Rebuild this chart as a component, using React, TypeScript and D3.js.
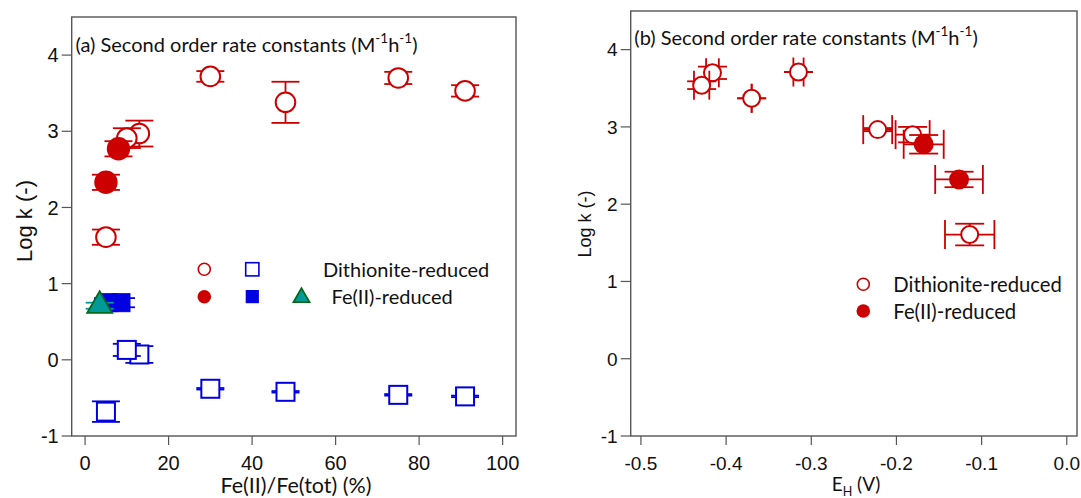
import React from 'react';
import * as d3 from 'd3';

const RED = '#cc0000';
const BLUE = '#0000e0';
const TEAL = '#009a9a';
const GREEN = '#006a1a';
const AXIS = '#555555';
const TICK_FONT = '"Liberation Sans", Arial, sans-serif';
const TEXT_FONT = 'Lato, "Open Sans", sans-serif';

// shared y axis
const logkTicks = [-1, 0, 1, 2, 3, 4];

// ---------- panel (a): log k vs Fe(II)/Fe(tot) ----------
const fracTicks = [0, 20, 40, 60, 80, 100];
// dithionite-reduced, red open circles (draw order matters for overlaps)
const aDithRedX = [13, 10, 30, 48, 75, 91, 5];
const aDithRedY = [2.97, 2.91, 3.72, 3.38, 3.7, 3.53, 1.61];
const aDithRedErr = [0.17, 0.13, 0.07, 0.27, 0.08, 0.075, 0.1];
// Fe(II)-reduced, red filled circles
const aFeRedX = [5, 8];
const aFeRedY = [2.33, 2.77];
const aFeRedErr = [0.1, 0.1];
// dithionite-reduced, blue open squares
const aDithBlueX = [13, 10, 30, 48, 75, 91, 5];
const aDithBlueY = [0.07, 0.13, -0.38, -0.42, -0.46, -0.48, -0.68];
const aDithBlueErr = [0.11, 0.08, 0.01, 0.01, 0.01, 0.01, 0.135];
// Fe(II)-reduced, blue filled squares
const aFeBlueX = [5.5, 8.6];
const aFeBlueY = [0.75, 0.75];
const aFeBlueErr = [0.06, 0.06];
// Fe(II)-reduced, green triangle
const aFeGreenX = [3.5];
const aFeGreenY = [0.71];
const aFeGreenErr = [0.04];

// ---------- panel (b): log k vs E_H ----------
const ehTicks = [-0.5, -0.4, -0.3, -0.2, -0.1, 0.0];
const ehTickLabels = ['-0.5', '-0.4', '-0.3', '-0.2', '-0.1', '0.0'];
const bDithX = [-0.416, -0.4287, -0.37, -0.315, -0.222, -0.181, -0.114];
const bDithY = [3.7, 3.54, 3.37, 3.71, 2.965, 2.9, 1.607];
const bDithXErr = [0.0075, 0.009, 0, 0.006, 0.017, 0.02, 0.029];
const bDithYErr = [0.08, 0.05, 0, 0, 0.02, 0.1, 0.14];
const bFeX = [-0.168, -0.1265];
const bFeY = [2.775, 2.32];
const bFeXErr = [0.0235, 0.028];
const bFeYErr = [0.12, 0.1];

type Scale = d3.ScaleLinear<number, number>;

function errLines(
    x: Scale, y: Scale, cx: number, cy: number,
    dx: number, dy: number, cap: number, color: string, key: string, withX: boolean
) {
    const px = x(cx), py = y(cy);
    const h = cap / 2;
    const out: React.ReactElement[] = [];
    const st = { stroke: color, strokeWidth: 1.8 };
    // y error
    const y0 = y(cy - dy), y1 = y(cy + dy);
    out.push(<line key={key + 'v'} x1={px} x2={px} y1={y0} y2={y1} {...st} />);
    out.push(<line key={key + 'vc0'} x1={px - h} x2={px + h} y1={y0} y2={y0} {...st} />);
    out.push(<line key={key + 'vc1'} x1={px - h} x2={px + h} y1={y1} y2={y1} {...st} />);
    if (withX) {
        const x0 = x(cx - dx), x1 = x(cx + dx);
        out.push(<line key={key + 'h'} x1={x0} x2={x1} y1={py} y2={py} {...st} />);
        out.push(<line key={key + 'hc0'} x1={x0} x2={x0} y1={py - h} y2={py + h} {...st} />);
        out.push(<line key={key + 'hc1'} x1={x1} x2={x1} y1={py - h} y2={py + h} {...st} />);
    }
    return out;
}

function marker(kind: string, px: number, py: number, size: number, color: string, key: string) {
    if (kind === 'openCircle')
        return <circle key={key} cx={px} cy={py} r={size} fill="white" stroke={color} strokeWidth={2} />;
    if (kind === 'filledCircle')
        return <circle key={key} cx={px} cy={py} r={size} fill={color} />;
    if (kind === 'openSquare')
        return <rect key={key} x={px - size} y={py - size} width={2 * size} height={2 * size} fill="white" stroke={color} strokeWidth={2} />;
    if (kind === 'filledSquare')
        return <rect key={key} x={px - size} y={py - size} width={2 * size} height={2 * size} fill={color} stroke={color} strokeWidth={1} />;
    // triangle, centroid at point
    const s = size * 2, hgt = s * 0.866;
    const pts = [[px, py - (2 * hgt) / 3], [px - s / 2, py + hgt / 3], [px + s / 2, py + hgt / 3]];
    return <polygon key={key} points={pts.map(p => p.join(',')).join(' ')} fill={TEAL} stroke={GREEN} strokeWidth={1.8} />;
}

function series(
    x: Scale, y: Scale, xs: number[], ys: number[], dys: number[], dxs: number[] | null,
    kind: string, size: number, color: string, errColor: string, cap: number, id: string
) {
    return xs.map((v, i) => (
        <g key={id + i}>
            {errLines(x, y, v, ys[i], dxs ? dxs[i] : 0, dys[i], cap, errColor, id + i, !!dxs)}
            {marker(kind, x(v), y(ys[i]), size, color, id + 'm' + i)}
        </g>
    ));
}

function Axes({ x, y, xTicks, xLabels, font }: { x: Scale; y: Scale; xTicks: number[]; xLabels: string[]; font: number }) {
    const [l, r] = x.range();
    const [b, t] = y.range();
    return (
        <g>
            <rect x={l} y={t} width={r - l} height={b - t} fill="none" stroke={AXIS} strokeWidth={1.4} />
            {logkTicks.map(v => (
                <g key={'y' + v}>
                    <line x1={l - 10} x2={l} y1={y(v)} y2={y(v)} stroke={AXIS} strokeWidth={1.2} />
                    <text x={l - 13} y={y(v)} dy="0.36em" textAnchor="end" fontFamily={TICK_FONT} fontSize={font} fill="#111">{v}</text>
                </g>
            ))}
            {xTicks.map((v, i) => (
                <g key={'x' + v}>
                    <line x1={x(v)} x2={x(v)} y1={b} y2={b + 9} stroke={AXIS} strokeWidth={1.2} />
                    <text x={x(v)} y={470} textAnchor="middle" fontFamily={TICK_FONT} fontSize={font} fill="#111">{xLabels[i]}</text>
                </g>
            ))}
        </g>
    );
}

function Title({ x, y, letter }: { x: number; y: number; letter: string }) {
    return (
        <text x={x} y={y} fontFamily={TEXT_FONT} fontSize={20} fill="#111">
            {`(${letter}) Second order rate constants (M`}
            <tspan dy={-9.5} fontSize={13.5}>-1</tspan>
            <tspan dy={9.5}>h</tspan>
            <tspan dy={-9.5} fontSize={13.5}>-1</tspan>
            <tspan dy={9.5}>)</tspan>
        </text>
    );
}

function PanelA() {
    const x = d3.scaleLinear().domain([-3.2, 103.2]).range([71.7, 516]);
    const y = d3.scaleLinear().domain([-1, 4.5]).range([436, 17]);
    const cap = 28;
    return (
        <g>
            <Axes x={x} y={y} xTicks={fracTicks} xLabels={fracTicks.map(String)} font={20} />
            <Title x={75.5} y={52} letter="a" />
            {series(x, y, aDithRedX, aDithRedY, aDithRedErr, null, 'openCircle', 9.8, RED, RED, cap, 'dr')}
            {series(x, y, aFeRedX, aFeRedY, aFeRedErr, null, 'filledCircle', 11.7, RED, RED, cap, 'fr')}
            {series(x, y, aDithBlueX, aDithBlueY, aDithBlueErr, null, 'openSquare', 9, BLUE, BLUE, cap, 'db')}
            {series(x, y, aFeBlueX, aFeBlueY, aFeBlueErr, null, 'filledSquare', 9, BLUE, BLUE, cap, 'fb')}
            {series(x, y, aFeGreenX, aFeGreenY, aFeGreenErr, null, 'triangle', 12.5, TEAL, TEAL, cap, 'fg')}
            {/* legend */}
            <circle cx={204.3} cy={269.3} r={6} fill="white" stroke={RED} strokeWidth={1.6} />
            <rect x={245.7} y={262.7} width={13.2} height={13.2} fill="white" stroke={BLUE} strokeWidth={1.6} />
            <text x={323} y={276.5} fontFamily={TEXT_FONT} fontSize={20} fill="#111">Dithionite-reduced</text>
            <circle cx={204.3} cy={296.7} r={6.8} fill={RED} />
            <rect x={245.7} y={290} width={13.2} height={13.2} fill={BLUE} />
            {marker('triangle', 301.5, 297.5, 8, TEAL, 'lg')}
            <text x={331.5} y={304} fontFamily={TEXT_FONT} fontSize={20} fill="#111">Fe(II)-reduced</text>
            <text x={296} y={493} textAnchor="middle" fontFamily={TEXT_FONT} fontSize={21.5} fill="#111">Fe(II)/Fe(tot) (%)</text>
            <text transform="translate(32,221) rotate(-90)" textAnchor="middle" fontFamily={TICK_FONT} fontSize={22} fill="#111">Log k (-)</text>
        </g>
    );
}

function PanelB() {
    const x = d3.scaleLinear().domain([-0.512, 0.012]).range([630.7, 1077]);
    const y = d3.scaleLinear().domain([-1, 4.5]).range([436, 11]);
    const cap = 29;
    return (
        <g>
            <Axes x={x} y={y} xTicks={ehTicks} xLabels={ehTickLabels} font={19} />
            <Title x={634.3} y={45} letter="b" />
            {series(x, y, bDithX, bDithY, bDithYErr, bDithXErr, 'openCircle', 8.5, RED, RED, cap, 'bd')}
            {series(x, y, bFeX, bFeY, bFeYErr, bFeXErr, 'filledCircle', 10, RED, RED, cap, 'bf')}
            {/* legend */}
            <circle cx={863.3} cy={284.3} r={6} fill="white" stroke={RED} strokeWidth={1.6} />
            <text x={893.3} y={291.5} fontFamily={TEXT_FONT} fontSize={20.3} fill="#111">Dithionite-reduced</text>
            <circle cx={863.3} cy={311} r={6.8} fill={RED} />
            <text x={893.3} y={318.5} fontFamily={TEXT_FONT} fontSize={20.3} fill="#111">Fe(II)-reduced</text>
            <text x={856} y={491} textAnchor="middle" fontFamily={TEXT_FONT} fontSize={19} fill="#111">
                E<tspan dy={5} fontSize={12.5}>H</tspan><tspan dy={-5}> (V)</tspan>
            </text>
            <text transform="translate(591,224) rotate(-90)" textAnchor="middle" fontFamily={TICK_FONT} fontSize={18} fill="#111">Log k (-)</text>
        </g>
    );
}

export default function App() {
    return (
        <svg width={1081} height={498} style={{ position: 'absolute', left: 0, top: 0, background: 'white' }}>
            <rect width={1081} height={498} fill="white" />
            <PanelA />
            <PanelB />
        </svg>
    );
}
